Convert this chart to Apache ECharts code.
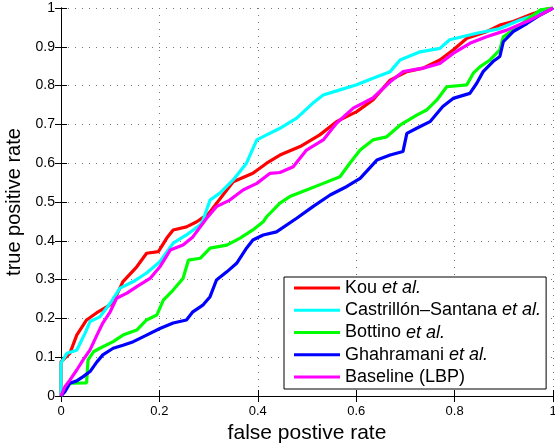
<!DOCTYPE html>
<html>
<head>
<meta charset="utf-8">
<script src="https://cdn.jsdelivr.net/npm/echarts@6/dist/echarts.min.js"></script>
<style>
  html, body { margin: 0; padding: 0; background: #fff; }
  #chart { width: 555px; height: 443px; }
</style>
</head>
<body>
<div id="chart"></div>
<script>
// ROC curves, points are [false positive rate, true positive rate]
var seriesNames = ['Kou', 'Castrillón–Santana', 'Bottino', 'Ghahramani', 'Baseline (LBP)'];
var seriesColors = ['#ff0000', '#00ffff', '#00ff00', '#0000ff', '#ff00ff'];

var kouRoc = [[0,0],[0,0.088],[0.018,0.11],[0.032,0.157],[0.052,0.196],[0.072,0.214],[0.1,0.235],
  [0.113,0.26],[0.126,0.295],[0.154,0.333],[0.174,0.368],[0.198,0.372],[0.215,0.407],[0.228,0.428],
  [0.255,0.436],[0.276,0.449],[0.3,0.47],[0.35,0.552],[0.39,0.574],[0.418,0.6],[0.445,0.621],
  [0.486,0.643],[0.526,0.673],[0.56,0.707],[0.601,0.733],[0.634,0.763],[0.669,0.814],[0.703,0.836],
  [0.736,0.845],[0.77,0.866],[0.797,0.892],[0.825,0.922],[0.865,0.939],[0.892,0.956],[0.919,0.965],
  [0.96,0.986],[0.987,0.997],[1,1]];

var castrillonRoc = [[0,0],[0,0.085],[0.012,0.11],[0.032,0.118],[0.049,0.162],[0.059,0.192],
  [0.079,0.204],[0.1,0.239],[0.12,0.278],[0.147,0.295],[0.174,0.317],[0.201,0.346],[0.228,0.394],
  [0.255,0.415],[0.283,0.441],[0.289,0.454],[0.303,0.505],[0.323,0.523],[0.35,0.557],[0.377,0.6],
  [0.398,0.66],[0.418,0.673],[0.445,0.69],[0.479,0.716],[0.512,0.755],[0.533,0.776],[0.567,0.789],
  [0.601,0.802],[0.634,0.819],[0.669,0.836],[0.689,0.866],[0.73,0.887],[0.77,0.896],[0.79,0.918],
  [0.845,0.935],[0.892,0.947],[0.933,0.969],[0.974,0.986],[1,1]];

var bottinoRoc = [[0,0],[0.012,0.024],[0.018,0.033],[0.052,0.034],[0.055,0.093],[0.066,0.114],
  [0.079,0.123],[0.106,0.14],[0.126,0.157],[0.154,0.17],[0.174,0.196],[0.195,0.209],[0.208,0.247],
  [0.228,0.273],[0.248,0.303],[0.259,0.35],[0.283,0.355],[0.303,0.381],[0.337,0.389],[0.364,0.407],
  [0.39,0.428],[0.411,0.449],[0.418,0.462],[0.445,0.497],[0.465,0.514],[0.499,0.531],[0.533,0.548],
  [0.567,0.565],[0.587,0.6],[0.608,0.634],[0.634,0.66],[0.662,0.668],[0.689,0.698],[0.723,0.724],
  [0.743,0.737],[0.764,0.763],[0.784,0.797],[0.825,0.802],[0.838,0.832],[0.852,0.849],[0.872,0.866],
  [0.892,0.892],[0.899,0.926],[0.919,0.943],[0.947,0.969],[0.974,0.995],[1,1]];

var ghahramaniRoc = [[0,0],[0.008,0.011],[0.018,0.033],[0.032,0.039],[0.045,0.05],[0.059,0.063],
  [0.073,0.088],[0.085,0.106],[0.106,0.123],[0.126,0.131],[0.147,0.14],[0.174,0.157],[0.201,0.174],
  [0.228,0.188],[0.255,0.196],[0.268,0.217],[0.289,0.235],[0.303,0.256],[0.316,0.299],[0.337,0.32],
  [0.357,0.342],[0.377,0.381],[0.39,0.402],[0.411,0.415],[0.438,0.423],[0.479,0.458],[0.512,0.488],
  [0.547,0.518],[0.581,0.54],[0.608,0.561],[0.642,0.608],[0.669,0.621],[0.695,0.63],[0.703,0.677],
  [0.723,0.69],[0.75,0.707],[0.776,0.746],[0.797,0.767],[0.831,0.78],[0.845,0.806],[0.858,0.836],
  [0.878,0.862],[0.892,0.875],[0.899,0.913],[0.919,0.939],[0.947,0.96],[0.974,0.982],[0.994,0.995],[1,1]];

var baselineRoc = [[0,0],[0.008,0.024],[0.018,0.041],[0.032,0.067],[0.045,0.093],[0.059,0.119],
  [0.073,0.157],[0.085,0.188],[0.1,0.217],[0.113,0.252],[0.134,0.265],[0.154,0.282],[0.181,0.303],
  [0.201,0.333],[0.222,0.376],[0.248,0.389],[0.268,0.41],[0.296,0.458],[0.316,0.488],[0.343,0.505],
  [0.37,0.531],[0.398,0.548],[0.425,0.574],[0.445,0.576],[0.472,0.591],[0.499,0.634],[0.533,0.66],
  [0.56,0.703],[0.594,0.742],[0.634,0.768],[0.669,0.81],[0.695,0.836],[0.736,0.845],[0.77,0.857],
  [0.797,0.883],[0.831,0.909],[0.865,0.926],[0.906,0.943],[0.947,0.965],[0.98,0.986],[1,1]];

var rocData = [kouRoc, castrillonRoc, bottinoRoc, ghahramaniRoc, baselineRoc];
var withEtAl = [true, true, true, true, false];

var fontName = 'Liberation Sans, Arial, Helvetica, sans-serif';

var chart = echarts.init(document.getElementById('chart'));

var series = [];
for (var i = 0; i < rocData.length; i++) {
  series.push({
    name: seriesNames[i],
    type: 'line',
    data: rocData[i],
    symbol: 'none',
    silent: true,
    lineStyle: { color: seriesColors[i], width: 3.2 },
    itemStyle: { color: seriesColors[i] }
  });
}

var gridLine = { show: true, lineStyle: { color: '#777', type: [1, 6], width: 1 } };
var tickStyle = { show: true, inside: true, length: 6, lineStyle: { color: '#000' } };

var option = {
  animation: false,
  backgroundColor: '#fff',
  grid: { left: 61, right: 2, top: 8, bottom: 47, containLabel: false, outerBoundsMode: 'none' },
  legend: {
    orient: 'vertical',
    left: 284,
    top: 277,
    padding: [2, 5, 3, 10],
    itemGap: 4.25,
    itemWidth: 46,
    itemHeight: 3,
    icon: 'rect',
    backgroundColor: '#fff',
    borderColor: '#000',
    borderWidth: 1,
    borderRadius: 0,
    data: seriesNames,
    formatter: function (name) {
      var idx = seriesNames.indexOf(name);
      return withEtAl[idx] ? '{n|' + name + ' }{i|et al.}' : '{n|' + name + '}';
    },
    textStyle: {
      fontFamily: fontName,
      fontSize: 18,
      color: '#000',
      rich: {
        n: { fontFamily: fontName, fontSize: 18, color: '#000' },
        i: { fontFamily: fontName, fontSize: 18, fontStyle: 'italic', color: '#000' }
      }
    }
  },
  xAxis: [{
    type: 'value',
    min: 0, max: 1, interval: 0.2,
    name: 'false postive rate',
    nameLocation: 'middle',
    nameGap: 24,
    nameTextStyle: { fontFamily: fontName, fontSize: 21, color: '#000' },
    axisLine: { show: true, lineStyle: { color: '#000', width: 1 } },
    axisTick: tickStyle,
    axisLabel: {
      fontFamily: fontName, fontSize: 13, color: '#000', margin: 9,
      formatter: function (v) { return String(+v.toFixed(1)); }
    },
    splitLine: gridLine
  }, {
    type: 'value',
    position: 'top',
    min: 0, max: 1, interval: 0.2,
    axisLine: { show: true, lineStyle: { color: '#000', width: 1 } },
    axisTick: tickStyle,
    axisLabel: { show: false },
    splitLine: { show: false }
  }],
  yAxis: [{
    type: 'value',
    min: 0, max: 1, interval: 0.1,
    name: 'true positive rate',
    nameLocation: 'middle',
    nameGap: 33,
    nameTextStyle: { fontFamily: fontName, fontSize: 20, color: '#000' },
    axisLine: { show: true, lineStyle: { color: '#000', width: 1 } },
    axisTick: tickStyle,
    axisLabel: {
      fontFamily: fontName, fontSize: 14, color: '#000', margin: 6,
      formatter: function (v) { return String(+v.toFixed(1)); }
    },
    splitLine: gridLine
  }, {
    type: 'value',
    position: 'right',
    min: 0, max: 1, interval: 0.1,
    axisLine: { show: true, lineStyle: { color: '#000', width: 1 } },
    axisTick: tickStyle,
    axisLabel: { show: false },
    splitLine: { show: false }
  }],
  series: series
};

chart.setOption(option);
</script>
</body>
</html>
